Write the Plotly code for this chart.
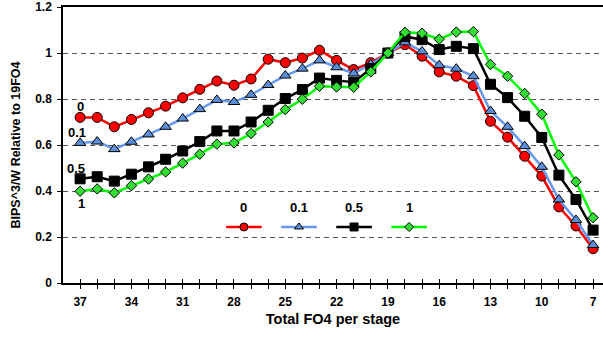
import plotly.graph_objects as go

# ---- data ----
fo4 = list(range(37, 6, -1))  # 37 .. 7
red_0 = [0.720, 0.720, 0.679, 0.711, 0.740, 0.769, 0.805, 0.842, 0.878, 0.860, 0.887,
         0.973, 0.958, 0.978, 1.012, 0.968, 0.928, 0.958, 1.000, 1.036, 0.986, 0.918,
         0.899, 0.858, 0.703, 0.634, 0.551, 0.465, 0.331, 0.248, 0.149]
blue_01 = [0.609, 0.615, 0.582, 0.614, 0.646, 0.679, 0.715, 0.756, 0.796, 0.787, 0.818,
           0.861, 0.902, 0.932, 0.968, 0.938, 0.911, 0.951, 1.000, 1.046, 1.007, 0.947,
           0.932, 0.899, 0.748, 0.679, 0.595, 0.505, 0.363, 0.274, 0.165]
black_05 = [0.453, 0.462, 0.443, 0.473, 0.505, 0.538, 0.574, 0.615, 0.661, 0.661, 0.700,
            0.751, 0.802, 0.841, 0.891, 0.881, 0.873, 0.932, 1.000, 1.072, 1.058, 1.015,
            1.029, 1.019, 0.864, 0.806, 0.725, 0.633, 0.469, 0.363, 0.230]
green_1 = [0.399, 0.409, 0.392, 0.423, 0.452, 0.483, 0.521, 0.560, 0.604, 0.609, 0.650,
           0.700, 0.754, 0.799, 0.855, 0.852, 0.851, 0.918, 1.000, 1.090, 1.086, 1.060,
           1.091, 1.093, 0.950, 0.899, 0.824, 0.734, 0.557, 0.440, 0.284]
series_names = ["0", "0.1", "0.5", "1"]
x_tick_labels = ["37", "34", "31", "28", "25", "22", "19", "16", "13", "10", "7"]
y_tick_vals = [0, 0.2, 0.4, 0.6, 0.8, 1.0, 1.2]
y_tick_labels = ["0", "0.2", "0.4", "0.6", "0.8", "1", "1.2"]

# ---- styles ----
series = [red_0, blue_01, black_05, green_1]
line_colors = ["#FF0000", "#6699EE", "#000000", "#00FF00"]
marker_fill = ["#FF0000", "#5B8FD9", "#000000", "#33DD33"]
symbols = ["circle", "triangle-up", "square", "diamond"]
msizes = [10, 10, 10, 8]
FONT = "Liberation Sans, Arial, sans-serif"

fig = go.Figure()
for vals, name, lc, mf, sym, ms in zip(series, series_names, line_colors, marker_fill, symbols, msizes):
    fig.add_trace(go.Scatter(
        x=fo4, y=vals, name=name, mode="lines+markers",
        line=dict(color=lc, width=2.5),
        marker=dict(symbol=sym, size=ms, color=mf, line=dict(color="black", width=1)),
        showlegend=False, cliponaxis=False,
    ))

# ---- custom legend (label above key) on an overlaid helper axis ----
legend_centers = [0.335, 0.437, 0.539, 0.641]
legend_half = 0.033
legend_y = 0.203
for c, name, lc, mf, sym in zip(legend_centers, series_names, line_colors, marker_fill, symbols):
    fig.add_trace(go.Scatter(
        x=[c - legend_half, c, c + legend_half], y=[legend_y] * 3,
        xaxis="x2", yaxis="y2", mode="lines+markers",
        line=dict(color=lc, width=2.5),
        marker=dict(symbol=sym, size=8 if sym != "diamond" else 7, color=mf,
                    opacity=[0, 1, 0], line=dict(color="black", width=1)),
        showlegend=False, hoverinfo="skip",
    ))
    fig.add_annotation(x=c, y=legend_y, xref="x2", yref="y2", text=f"<b>{name}</b>",
                       showarrow=False, yshift=19, font=dict(family=FONT, size=13, color="black"))

# ---- series labels at left ----
label_shifts = [(0, 11), (-3, 10), (-4, 10), (1, -12)]
for vals, name, (dx, dy) in zip(series, series_names, label_shifts):
    fig.add_annotation(x=fo4[0], y=vals[0], text=f"<b>{name}</b>", showarrow=False,
                       xshift=dx, yshift=dy, font=dict(family=FONT, size=13, color="black"))

tick_font = dict(family=FONT, size=12, color="black", weight="bold")
x_tick_vals = [int(t) for t in x_tick_labels]

# dummy trace so xaxis3 renders its ticks
fig.add_trace(go.Scatter(x=[fo4[0]], y=[None], xaxis="x3", yaxis="y", showlegend=False, hoverinfo="skip"))

fig.update_layout(
    width=603, height=341,
    margin=dict(l=63, r=0, t=7, b=58, autoexpand=False),
    plot_bgcolor="white", paper_bgcolor="white",
    font=dict(family=FONT, color="black"),
    xaxis=dict(
        range=[38, 6.42], tickvals=fo4,
        ticktext=[str(v) if v in x_tick_vals else "" for v in fo4],
        ticks="outside", ticklen=4, tickwidth=1, tickcolor="black",
        showline=True, linecolor="black", linewidth=1.5, mirror=True,
        showgrid=False, zeroline=False, tickfont=tick_font, automargin=False,
        ticklabelstandoff=3,
        title=dict(text="Total FO4 per stage", font=dict(family=FONT, size=14.5, weight="bold"), standoff=6),
    ),
    xaxis3=dict(
        range=[38, 6.42], overlaying="x", anchor="y", tickvals=fo4,
        ticks="inside", ticklen=4, tickwidth=1, tickcolor="black",
        showticklabels=False, showgrid=False, showline=False, zeroline=False, automargin=False,
    ),
    yaxis=dict(
        range=[0, 1.2], tickvals=y_tick_vals, ticktext=y_tick_labels,
        ticks="outside", ticklen=4, tickwidth=1, tickcolor="black",
        showline=True, linecolor="black", linewidth=1.5,
        showgrid=True, gridcolor="#555555", griddash="5px,4px", gridwidth=1,
        zeroline=False, tickfont=tick_font, automargin=False, ticklabelstandoff=3,
        title=dict(text="BIPS^3/W Relative to 19FO4", font=dict(family=FONT, size=12.5, weight="bold"), standoff=12),
    ),
    xaxis2=dict(overlaying="x", range=[0, 1], anchor="y2", visible=False, fixedrange=True),
    yaxis2=dict(overlaying="y", range=[0, 1], anchor="x2", visible=False, fixedrange=True),
)

fig.write_html("out.html", config={"displayModeBar": False},
               post_script="document.body.style.margin='0';")
